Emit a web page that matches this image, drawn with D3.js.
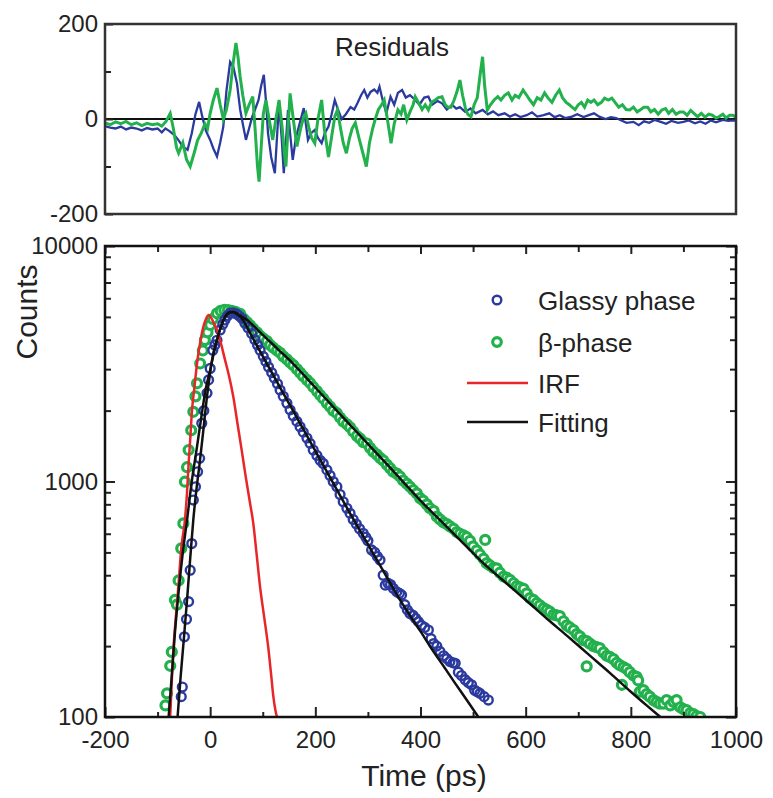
<!DOCTYPE html>
<html>
<head>
<meta charset="utf-8">
<script src="https://cdn.jsdelivr.net/npm/d3@7"></script>
<style>
    html, body { margin: 0; padding: 0; background: #fff; }
    svg text { font-family: "Liberation Sans", Arial, sans-serif; fill: #222; }
</style>
</head>
<body>
<div id="chart"></div>
<script>
// 时间轴刻度
const timeTicks = [-200, 0, 200, 400, 600, 800, 1000];
const timeMinor = [-100, 100, 300, 500, 700, 900];
const countTicks = [100, 1000, 10000];
const residualTicks = [-200, 0, 200];
const residualMinor = [-100, 100];
const legendItems = [
    { label: 'Glassy phase', type: 'dot', color: '#2b3a9e' },
    { label: 'β-phase', type: 'dot', color: '#22b14c' },
    { label: 'IRF', type: 'line', color: '#e8262a' },
    { label: 'Fitting', type: 'line', color: '#111' }
];

// 玻璃相 [t(ps), counts]
const glassyPoints = [
    [-55,122],[-53,134],[-49,219],[-45,260],[-41,309],[-38,420],[-35,545],[-32,834],[-28,950],[-24,1100],
    [-20,1254],[-16,1766],[-12,2000],[-6,2373],[-3,2700],[0,3020],[5,3610],[9,3800],[13,3980],[19,4400],
    [24,4650],[28,4850],[33,5050],[38,5190],[44,5200],[50,5150],[55,5050],[60,4930],[66,4700],[72,4500],
    [79,4250],[85,4000],[90,3800],[95,3610],[101,3400],[106,3230],[111,3064],[117,2900],[122,2750],[128,2600],
    [133,2446],[139,2300],[146,2150],[152,2015],[158,1900],[165,1800],[171,1708],[177,1620],[184,1530],[190,1452],
    [196,1360],[203,1290],[209,1230],[215,1193],[222,1120],[228,1060],[234,1000],[241,950],[247,880],[253,820],
    [260,770],[266,733],[272,690],[278,660],[284,630],[291,603],[296,580],[300,560],[307,512],[313,500],
    [318,480],[323,464],[329,400],[333,363],[338,370],[343,365],[348,352],[355,340],[360,335],[364,330],
    [370,300],[375,285],[380,275],[386,270],[391,262],[396,254],[402,245],[408,240],[415,234],[420,215],
    [425,205],[431,200],[437,190],[444,182],[450,177],[456,172],[462,170],[466,169],[472,155],[478,150],
    [485,144],[491,140],[497,137],[503,130],[508,128],[513,126],[521,122],[529,118]
];

// β相 [t(ps), counts]
const betaPoints = [
    [-85,112],[-82,126],[-76,165],[-73,189],[-67,314],[-63,300],[-60,380],[-55,520],[-51,664],[-48,998],
    [-44,1150],[-41,1361],[-36,1650],[-32,1977],[-28,2300],[-25,2612],[-19,3170],[-14,3600],[-10,3985],[-5,4300],
    [0,4620],[5,4900],[13,5180],[20,5300],[27,5350],[34,5340],[41,5300],[48,5250],[57,5150],[64,4900],
    [70,4750],[76,4600],[82,4450],[89,4300],[95,4150],[101,4050],[108,3950],[114,3800],[120,3700],[127,3600],
    [133,3520],[139,3400],[146,3300],[152,3200],[158,3120],[165,3000],[171,2900],[177,2800],[184,2700],[190,2620],
    [196,2520],[203,2420],[209,2330],[215,2250],[222,2150],[228,2080],[234,2000],[241,1950],[247,1870],[253,1800],
    [260,1750],[266,1700],[272,1630],[279,1560],[285,1520],[291,1470],[298,1450],[304,1390],[310,1340],[317,1300],
    [323,1260],[329,1230],[336,1180],[342,1140],[348,1100],[355,1080],[361,1050],[367,1010],[374,980],[380,950],
    [386,920],[393,890],[399,850],[405,830],[412,800],[418,770],[425,750],[431,710],[437,690],[444,670],
    [450,660],[456,645],[463,630],[469,610],[475,600],[482,590],[488,580],[494,560],[500,530],[507,510],
    [513,490],[520,470],[523,565],[526,450],[532,440],[539,430],[545,428],[551,410],[558,395],[564,390],
    [570,382],[577,370],[583,360],[589,355],[596,350],[602,335],[608,320],[615,314],[621,305],[627,298],
    [634,290],[640,285],[646,280],[653,272],[659,270],[665,268],[672,255],[678,245],[684,240],[691,234],
    [697,225],[703,220],[710,212],[716,210],[716,164],[722,205],[729,200],[735,198],[741,196],[748,188],
    [754,182],[760,180],[767,176],[773,170],[779,166],[783,137],[786,163],[792,160],[798,155],[805,150],
    [811,148],[814,143],[817,128],[824,130],[830,125],[836,122],[843,118],[849,116],[855,114],[862,114],
    [868,118],[875,112],[881,116],[887,118],[894,110],[900,108],[906,107],[913,104],[919,103],[925,101],[932,100]
];

// 拟合曲线
const glassyFit = [
    [-62,100],[-56,150],[-50,215],[-44,314],[-38,470],[-32,690],[-26,930],[-20,1193],[-13,1650],[-6,2300],
    [0,2900],[6,3500],[13,3985],[20,4500],[27,4900],[35,5180],[42,5230],[50,5150],[60,4930],[80,4100],
    [100,3405],[120,2830],[140,2350],[160,1955],[180,1623],[200,1349],[220,1120],[240,931],[266,733],[285,618],
    [305,517],[325,433],[345,362],[361,314],[380,270],[400,231],[425,189],[445,163],[465,140],[488,118],[510,100]
];
const betaFit = [
    [-79,100],[-73,150],[-67,228],[-60,340],[-52,500],[-44,686],[-35,1000],[-25,1406],[-15,2000],[-8,2500],
    [0,2972],[8,3600],[15,4150],[25,4850],[32,5150],[38,5260],[45,5250],[55,5100],[70,4850],[100,4195],
    [130,3625],[158,3162],[190,2650],[222,2218],[250,1901],[280,1611],[310,1367],[340,1159],[370,980],[399,834],
    [430,711],[460,610],[490,523],[520,449],[560,375],[600,314],[640,262],[680,220],[720,184],[760,154],
    [800,128],[830,112],[856,100]
];
const irfCurve = [
    [-76,100],[-70,193],[-65,270],[-60,369],[-55,520],[-48,686],[-44,900],[-41,1193],[-38,1500],[-35,1946],
    [-30,2500],[-25,3170],[-19,3900],[-13,4540],[-8,4900],[-3,5090],[3,4900],[8,4650],[13,4400],[20,3900],
    [28,3300],[36,2800],[44,2290],[52,1760],[60,1355],[67,1070],[75,830],[82,664],[88,500],[95,355],
    [103,263],[111,193],[116,151],[120,123],[124,107],[127,100]
];

// 残差
const glassyResidual = [
    [-200,-15],[-190,-18],[-180,-20],[-170,-16],[-160,-22],[-150,-18],[-140,-20],[-130,-24],[-120,-19],[-110,-22],
    [-100,-20],[-92,-28],[-85,-20],[-78,-25],[-68,-34],[-60,-45],[-52,-58],[-43,-65],[-35,-30],[-28,10],
    [-21,36],[-15,5],[-8,-25],[0,-44],[6,-62],[13,-79],[19,-50],[25,-16],[31,60],[38,120],
    [44,110],[51,75],[57,20],[62,-10],[68,-44],[74,-20],[80,5],[85,19],[92,40],[97,70],
    [102,93],[106,40],[110,-30],[116,-80],[123,-114],[127,-40],[131,33],[136,-40],[140,-114],[144,-50],
    [148,19],[152,-30],[157,-86],[163,-40],[170,-10],[178,23],[186,-44],[192,-30],[199,-23],[205,-40],
    [212,-51],[218,-30],[225,-16],[231,10],[237,40],[243,20],[250,0],[258,10],[267,25],[274,20],
    [280,33],[287,50],[293,61],[299,45],[305,57],[312,62],[318,55],[322,68],[328,40],[335,12],
    [343,47],[350,30],[357,55],[365,61],[372,45],[380,50],[390,40],[398,30],[407,45],[415,47],
    [422,30],[432,38],[441,33],[450,20],[460,30],[468,22],[475,25],[485,15],[495,22],[505,12],
    [518,19],[528,10],[538,16],[548,8],[560,12],[570,5],[580,10],[590,4],[602,8],[612,14],
    [622,5],[634,8],[645,12],[655,4],[665,8],[675,2],[688,5],[698,10],[710,4],[720,8],
    [730,12],[740,5],[752,0],[762,4],[772,2],[782,-3],[792,-8],[805,-6],[815,-13],[825,-5],
    [835,-8],[845,-2],[857,-6],[867,-10],[877,-4],[890,-8],[900,-6],[910,-3],[922,-9],[932,-5],
    [942,-10],[952,-3],[962,-7],[975,-2],[985,-4],[995,-3],[1000,-4]
];
const betaResidual = [
    [-200,-8],[-190,-12],[-180,-6],[-170,-10],[-160,-5],[-150,-12],[-140,-8],[-130,-14],[-120,-9],[-110,-12],
    [-100,-10],[-92,-15],[-84,-5],[-76,12],[-70,-20],[-64,-60],[-60,-72],[-52,-50],[-45,-85],[-38,-100],
    [-30,-70],[-24,-45],[-17,-30],[-10,-10],[-5,-20],[0,12],[6,40],[13,65],[19,30],[25,0],
    [31,20],[38,61],[44,120],[49,160],[53,130],[57,89],[62,50],[68,12],[74,30],[81,47],
    [86,-30],[90,-100],[93,-132],[97,-60],[101,10],[106,40],[112,0],[119,-44],[125,0],[131,40],
    [137,-20],[141,-70],[144,-100],[148,-20],[152,54],[158,0],[165,-58],[172,-20],[178,5],[182,12],
    [188,-20],[193,-40],[199,-51],[205,0],[212,40],[217,-20],[221,-50],[225,-80],[232,-30],[237,5],
    [242,19],[248,-20],[253,-50],[259,-72],[265,-40],[270,-20],[276,-8],[283,-40],[290,-70],[297,-100],
    [303,-50],[309,-20],[314,0],[320,20],[326,30],[331,40],[337,0],[344,-51],[350,-10],[357,19],
    [363,10],[368,30],[374,-2],[380,15],[386,30],[390,47],[396,35],[403,20],[409,30],[415,19],
    [421,35],[428,40],[434,45],[441,47],[447,30],[452,25],[458,25],[464,40],[470,60],[475,82],
    [480,50],[486,20],[490,10],[496,5],[502,30],[508,45],[513,90],[518,131],[522,70],[527,19],
    [533,30],[540,40],[547,47],[553,40],[560,50],[567,55],[574,40],[580,50],[587,45],[595,61],
    [602,50],[608,40],[615,30],[622,45],[629,40],[636,55],[642,45],[650,35],[657,50],[664,61],
    [670,45],[677,35],[683,30],[688,25],[694,20],[700,30],[706,35],[712,25],[718,40],[724,35],
    [730,40],[737,30],[744,35],[750,44],[757,40],[764,44],[770,35],[777,25],[784,30],[791,20],
    [798,19],[805,25],[812,15],[819,20],[825,25],[832,25],[838,15],[845,20],[852,10],[859,19],
    [866,22],[872,12],[879,20],[886,10],[893,15],[900,15],[907,8],[914,18],[920,12],[927,5],
    [934,12],[941,4],[948,10],[955,8],[962,2],[968,5],[975,10],[981,2],[988,8],[994,8],[1000,4]
];

const width = 773, height = 798;
const left = 105, right = 736;
const res = { top: 24, bottom: 214 };
const main = { top: 246, bottom: 717 };
const BLUE = '#2b3a9e', GREEN = '#22b14c', RED = '#e8262a';

const svg = d3.select('#chart').append('svg')
    .attr('width', width)
    .attr('height', height);

const x = d3.scaleLinear().domain([-200, 1000]).range([left, right]);
const yRes = d3.scaleLinear().domain([-200, 200]).range([res.bottom, res.top]);
const yLog = d3.scaleLog().domain([100, 10000]).range([main.bottom, main.top]);

const minorLog = [];
[100, 1000].forEach(base => {
    for (let k = 2; k <= 9; k++) minorLog.push(base * k);
});

svg.append('defs').append('clipPath').attr('id', 'clipMain')
    .append('rect')
    .attr('x', left).attr('y', main.top)
    .attr('width', right - left).attr('height', main.bottom - main.top);

function styleAxis(g, size) {
    g.select('.domain').remove();
    g.selectAll('.tick line').attr('stroke', '#222').attr('stroke-width', 2);
    g.selectAll('.tick text').style('font-size', size + 'px').attr('fill', '#222');
}

// ===== 残差面板 =====
const resLine = d3.line().x(d => x(d[0])).y(d => yRes(d[1]));

svg.append('line')
    .attr('x1', left).attr('x2', right)
    .attr('y1', yRes(0)).attr('y2', yRes(0))
    .attr('stroke', '#111').attr('stroke-width', 2);

svg.append('path').datum(glassyResidual)
    .attr('d', resLine)
    .attr('fill', 'none').attr('stroke', BLUE).attr('stroke-width', 2.3);

svg.append('path').datum(betaResidual)
    .attr('d', resLine)
    .attr('fill', 'none').attr('stroke', GREEN).attr('stroke-width', 3);

svg.append('g')
    .attr('transform', `translate(${left},0)`)
    .call(d3.axisLeft(yRes).tickValues(residualTicks).tickSize(-8).tickPadding(7).tickFormat(d => String(d)))
    .call(g => styleAxis(g, 24));

svg.append('g')
    .attr('transform', `translate(${left},0)`)
    .call(d3.axisLeft(yRes).tickValues(residualMinor).tickSize(-6).tickFormat(''))
    .call(g => styleAxis(g, 24));

svg.append('rect')
    .attr('x', left).attr('y', res.top)
    .attr('width', right - left).attr('height', res.bottom - res.top)
    .attr('fill', 'none').attr('stroke', '#333').attr('stroke-width', 2.5);

svg.append('text')
    .attr('x', 392).attr('y', 56)
    .attr('text-anchor', 'middle')
    .style('font-size', '26px')
    .text('Residuals');

// ===== 主面板 =====
const plot = svg.append('g').attr('clip-path', 'url(#clipMain)');
const curve = d3.line().x(d => x(d[0])).y(d => yLog(d[1])).curve(d3.curveMonotoneX);

plot.selectAll('.beta')
    .data(betaPoints)
    .enter().append('circle')
    .attr('class', 'beta')
    .attr('cx', d => x(d[0]))
    .attr('cy', d => yLog(d[1]))
    .attr('r', 4.5)
    .attr('fill', '#fff')
    .attr('stroke', GREEN)
    .attr('stroke-width', 3.2);

plot.selectAll('.glassy')
    .data(glassyPoints)
    .enter().append('circle')
    .attr('class', 'glassy')
    .attr('cx', d => x(d[0]))
    .attr('cy', d => yLog(d[1]))
    .attr('r', 4.4)
    .attr('fill', 'none')
    .attr('stroke', BLUE)
    .attr('stroke-width', 2.4);

plot.append('path').datum(irfCurve)
    .attr('d', curve)
    .attr('fill', 'none').attr('stroke', RED).attr('stroke-width', 2.5);

[betaFit, glassyFit].forEach(fit => {
    plot.append('path').datum(fit)
        .attr('d', curve)
        .attr('fill', 'none').attr('stroke', '#111').attr('stroke-width', 2.5);
});

// 坐标轴
svg.append('g')
    .attr('transform', `translate(0,${main.bottom})`)
    .call(d3.axisBottom(x).tickValues(timeTicks).tickSize(-10).tickPadding(14).tickFormat(d => String(d)))
    .call(g => styleAxis(g, 24));
svg.append('g')
    .attr('transform', `translate(0,${main.bottom})`)
    .call(d3.axisBottom(x).tickValues(timeMinor).tickSize(-5).tickFormat(''))
    .call(g => styleAxis(g, 24));
svg.append('g')
    .attr('transform', `translate(0,${main.top})`)
    .call(d3.axisTop(x).tickValues(timeTicks).tickSize(-8).tickFormat(''))
    .call(g => styleAxis(g, 24));
svg.append('g')
    .attr('transform', `translate(0,${main.top})`)
    .call(d3.axisTop(x).tickValues(timeMinor).tickSize(-6).tickFormat(''))
    .call(g => styleAxis(g, 24));

svg.append('g')
    .attr('transform', `translate(${left},0)`)
    .call(d3.axisLeft(yLog).tickValues(countTicks).tickSize(-10).tickPadding(7).tickFormat(d => String(d)))
    .call(g => styleAxis(g, 24));
svg.append('g')
    .attr('transform', `translate(${left},0)`)
    .call(d3.axisLeft(yLog).tickValues(minorLog).tickSize(-6).tickFormat(''))
    .call(g => styleAxis(g, 24));
svg.append('g')
    .attr('transform', `translate(${right},0)`)
    .call(d3.axisRight(yLog).tickValues(countTicks).tickSize(-10).tickFormat(''))
    .call(g => styleAxis(g, 24));
svg.append('g')
    .attr('transform', `translate(${right},0)`)
    .call(d3.axisRight(yLog).tickValues(minorLog).tickSize(-6).tickFormat(''))
    .call(g => styleAxis(g, 24));

svg.append('rect')
    .attr('x', left).attr('y', main.top)
    .attr('width', right - left).attr('height', main.bottom - main.top)
    .attr('fill', 'none').attr('stroke', '#111').attr('stroke-width', 2.5);

svg.append('text')
    .attr('x', 424).attr('y', 786)
    .attr('text-anchor', 'middle')
    .style('font-size', '30px')
    .text('Time (ps)');

svg.append('text')
    .attr('transform', 'translate(37,312) rotate(-90)')
    .attr('text-anchor', 'middle')
    .style('font-size', '30px')
    .text('Counts');

// 图例
const legend = svg.append('g');
legendItems.forEach((item, i) => {
    const cy = [300, 342, 383, 422][i];
    if (item.type === 'dot') {
        legend.append('circle')
            .attr('cx', 497).attr('cy', cy).attr('r', 4.3)
            .attr('fill', '#fff')
            .attr('stroke', item.color)
            .attr('stroke-width', i === 1 ? 3.2 : 2.4);
    } else {
        legend.append('line')
            .attr('x1', 467).attr('x2', 528)
            .attr('y1', cy).attr('y2', cy)
            .attr('stroke', item.color).attr('stroke-width', 2.5);
    }
    legend.append('text')
        .attr('x', 538).attr('y', cy + 9.5)
        .style('font-size', '26px')
        .text(item.label);
});
</script>
</body>
</html>
